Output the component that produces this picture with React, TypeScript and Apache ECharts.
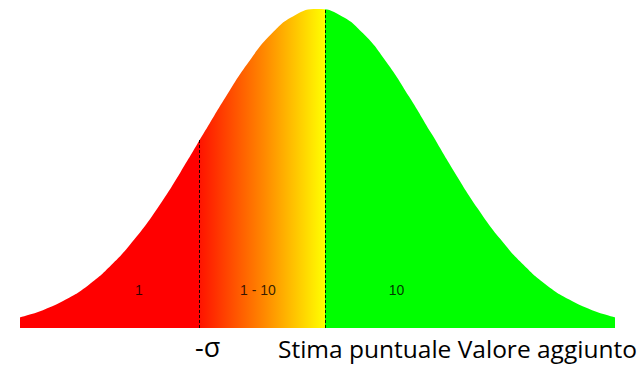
import React, { useEffect, useRef } from "react";
import * as echarts from "echarts";

// Curve: x in units of sigma, height relative to peak
const curveX = [-2.6, -2.4, -2.2, -2.0, -1.8, -1.6, -1.4, -1.2, -1.0, -0.8, -0.6, -0.4, -0.2, 0, 0.2, 0.4, 0.6, 0.8, 1.0, 1.2, 1.4, 1.6, 1.8, 2.0, 2.2, 2.4, 2.6];
const curveY = [0.034, 0.056, 0.089, 0.135, 0.198, 0.278, 0.375, 0.487, 0.607, 0.726, 0.835, 0.923, 0.98, 1, 0.98, 0.923, 0.835, 0.726, 0.607, 0.487, 0.375, 0.278, 0.198, 0.135, 0.089, 0.056, 0.034];

// Dashed dividers
const dividerX = [-1.03, 0.066];
const dividerTop = [0.59, 0.998];

// Zone labels
const zoneLabels = ["1", "1 - 10", "10"];
const zoneLabelX = [-1.56, -0.52, 0.69];
const zoneLabelY = [0.12, 0.12, 0.12];

// Bottom captions
const captions = ["-σ", "Stima puntuale Valore aggiunto"];

export default function App() {
  const ref = useRef<HTMLDivElement>(null);
  useEffect(() => {
    if (!ref.current) return;
    const chart = echarts.init(ref.current, null, { renderer: "svg" });
    const gradient = new echarts.graphic.LinearGradient(0, 0, 1, 0, [
      { offset: 0, color: "#ff0000" },
      { offset: 0.3025, color: "#ff0000" },
      { offset: 0.3026, color: "#ff1400" },
      { offset: 0.41, color: "#ff8800" },
      { offset: 0.5125, color: "#ffff00" },
      { offset: 0.5126, color: "#00ff00" },
      { offset: 1, color: "#00ff00" },
    ]);
    chart.setOption({
      animation: false,
      grid: { left: 20, right: 22, top: 9, bottom: 38, containLabel: false },
      xAxis: { type: "value", min: -2.6, max: 2.6, show: false },
      yAxis: { type: "value", min: 0, max: 1, show: false },
      series: [
        {
          type: "line",
          data: curveX.map((x, i) => [x, curveY[i]]),
          smooth: true,
          symbol: "none",
          lineStyle: { width: 0 },
          areaStyle: { color: gradient, opacity: 1 },
          markLine: {
            silent: true,
            symbol: ["none", "none"],
            label: { show: false },
            lineStyle: { color: "#000", width: 1, type: [3, 2], opacity: 0.9 },
            data: dividerX.map((x, i) => [
              { coord: [x, 0] },
              { coord: [x, dividerTop[i]] },
            ]),
          },
          z: 1,
        },
        {
          type: "scatter",
          symbolSize: 0,
          silent: true,
          data: zoneLabels.map((t, i) => ({ value: [zoneLabelX[i], zoneLabelY[i]], name: t })),
          label: {
            show: true,
            position: "inside",
            formatter: (p: any) => p.name,
            color: "#000",
            fontFamily: "Liberation Sans",
            fontSize: 14,
          },
          z: 3,
        },
      ],
      graphic: [
        {
          type: "text",
          left: 195,
          top: 333,
          style: { text: captions[0], fontFamily: "Open Sans", fontSize: 27, fill: "#000" },
        },
        {
          type: "text",
          left: 278,
          top: 336,
          style: { text: captions[1], fontFamily: "Open Sans", fontSize: 24.5, fill: "#000" },
        },
      ],
    });
    return () => chart.dispose();
  }, []);
  return <div ref={ref} style={{ width: 637, height: 366, position: "absolute", left: 0, top: 0 }} />;
}
